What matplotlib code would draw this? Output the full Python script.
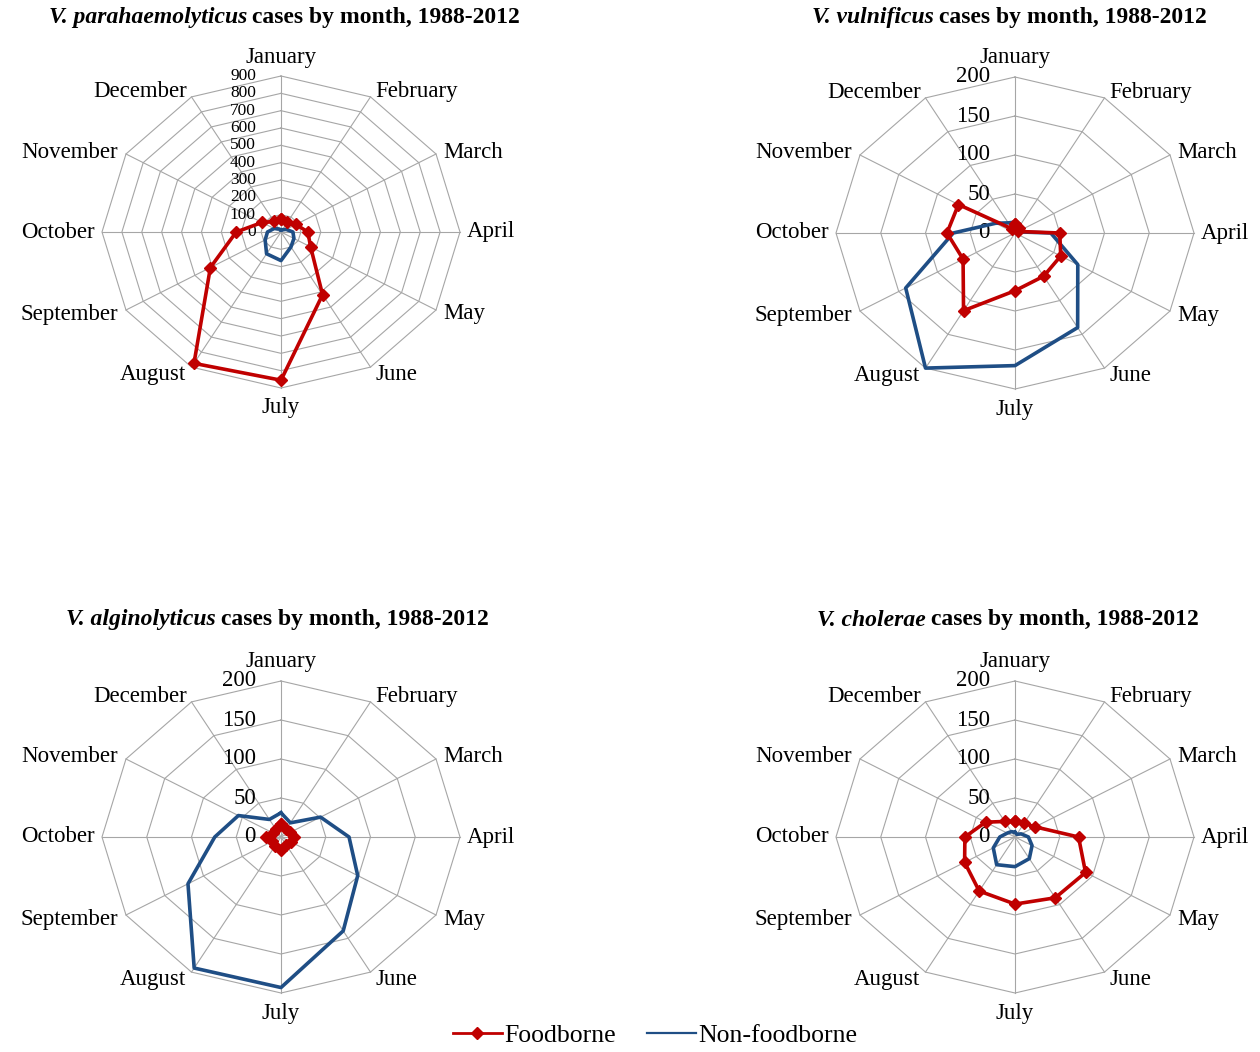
import numpy as np
import matplotlib.pyplot as plt
from matplotlib.lines import Line2D

months = ['January', 'February', 'March', 'April', 'May', 'June',
          'July', 'August', 'September', 'October', 'November', 'December']

# cases by month, Jan..Dec
vp_food = [73, 65, 87, 135, 172, 418, 855, 875, 410, 225, 110, 70]
vp_nonfood = [12, 15, 30, 60, 75, 100, 165, 145, 92, 68, 40, 20]
vv_food = [12, 8, 4, 50, 59, 64, 74, 115, 67, 76, 73, 6]
vv_nonfood = [14, 4, 3, 40, 81, 140, 170, 200, 141, 69, 25, 15]
va_food = [17, 12, 12, 15, 13, 12, 17, 14, 11, 17, 10, 12]
va_nonfood = [31, 21, 51, 76, 99, 139, 193, 194, 120, 74, 55, 26]
vc_food = [20, 20, 26, 71, 91, 90, 86, 80, 65, 56, 38, 23]
vc_nonfood = [6, 4, 8, 15, 22, 32, 38, 41, 28, 17, 10, 8]

species = ['V. parahaemolyticus', 'V. vulnificus', 'V. alginolyticus', 'V. cholerae']
rmax = [900, 200, 200, 200]
rstep = [100, 50, 50, 50]

RED = '#C00000'
BLUE = '#1F4E85'
GRID = '#A6A6A6'
plt.rcParams['font.family'] = ['Liberation Serif', 'DejaVu Serif']

W, H = 1260, 1052
fig = plt.figure(figsize=(W / 100, H / 100), dpi=100)

# chart centres in pixels, title split point (end of italic part)
centres = [(281, 232), (1015, 233), (281, 837), (1015, 837)]
split_x = [247, 934, 216, 926]
title_y = [17, 17, 620, 620]
tick_fs = [12.5, 16.5, 16.5, 16.5]
hr, vr = 179, 156  # horizontal / vertical radius in px

theta = np.arange(12) * 2 * np.pi / 12
sx, cy_ = np.sin(theta), np.cos(theta)

# month label offsets (px) and alignment
lab_off = [(0, 19, 'center'), (5, 5, 'left'), (7, 2, 'left'), (7, 0, 'left'),
           (7, -4, 'left'), (5, -7, 'left'), (0, -20, 'center'), (-5, -7, 'right'),
           (-8, -4, 'right'), (-7, 0, 'right'), (-8, 2, 'right'), (-4, 5, 'right')]

data = [(vp_food, vp_nonfood), (vv_food, vv_nonfood),
        (va_food, va_nonfood), (vc_food, vc_nonfood)]

for i in range(4):
    cx, cy = centres[i]
    ax = fig.add_axes([(cx - 1.5 * hr) / W, (H - cy - 1.5 * vr) / H, 3 * hr / W, 3 * vr / H])
    ax.set_xlim(-1.5, 1.5)
    ax.set_ylim(-1.5, 1.5)
    ax.axis('off')

    levels = np.arange(rstep[i], rmax[i] + 1, rstep[i]) / rmax[i]
    for lv in levels:
        ax.plot(np.append(sx, sx[0]) * lv, np.append(cy_, cy_[0]) * lv, color=GRID, lw=0.8, zorder=1)
    for k in range(12):
        ax.plot([0, sx[k]], [0, cy_[k]], color=GRID, lw=0.8, zorder=1)

    for lv in np.append([0], levels):
        ax.text(-0.14, lv, '%d' % round(lv * rmax[i]), ha='right', va='center',
                fontsize=tick_fs[i], zorder=2)

    for k in range(12):
        dx, dy, ha = lab_off[k]
        ax.annotate(months[k], xy=(sx[k], cy_[k]), xytext=(dx, dy), textcoords='offset pixels',
                    ha=ha, va='center', fontsize=16.5)

    food, nonfood = data[i]
    r = np.array(nonfood + nonfood[:1]) / rmax[i]
    ax.plot(np.append(sx, sx[0]) * r, np.append(cy_, cy_[0]) * r, color=BLUE, lw=2.6, zorder=3)
    r = np.array(food + food[:1]) / rmax[i]
    ax.plot(np.append(sx, sx[0]) * r, np.append(cy_, cy_[0]) * r, color=RED, lw=2.6,
            marker='D', markersize=6.5, zorder=4)

    fig.text(split_x[i] / W, 1 - title_y[i] / H, species[i], ha='right', va='center',
             fontsize=17, fontweight='bold', fontstyle='italic')
    fig.text((split_x[i] + 5) / W, 1 - title_y[i] / H, 'cases by month, 1988-2012', ha='left',
             va='center', fontsize=17, fontweight='bold')

handles = [Line2D([], [], color=RED, lw=2, marker='D', markersize=6),
           Line2D([], [], color=BLUE, lw=1.6)]
fig.legend(handles, ['Foodborne', 'Non-foodborne'], loc='center', bbox_to_anchor=(655 / W, 1 - 1036 / H),
           ncol=2, frameon=False, fontsize=18.5, handlelength=1.9, handletextpad=0.1, columnspacing=1.2)

fig.savefig('out.png', dpi=100)
